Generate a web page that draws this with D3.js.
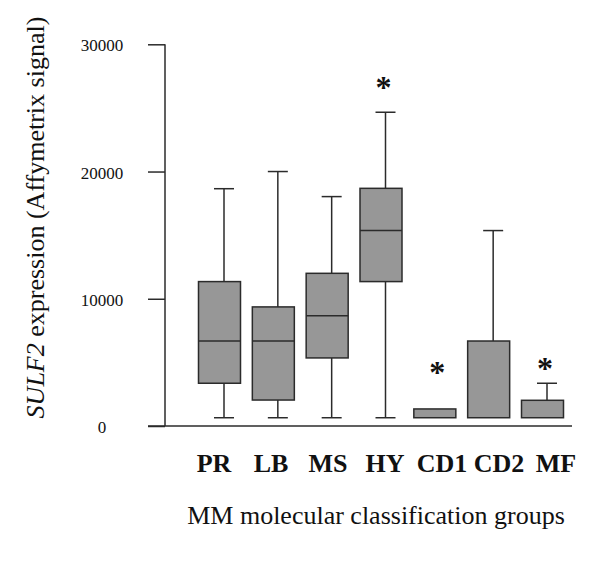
<!DOCTYPE html>
<html>
<head>
<meta charset="utf-8">
<script src="https://cdn.jsdelivr.net/npm/d3@7"></script>
<style>
  html, body { margin: 0; padding: 0; background: #fff; }
  svg { display: block; font-family: "Liberation Serif", "Times New Roman", serif; }
</style>
</head>
<body>
<svg id="chart" width="600" height="567"></svg>
<script>
// ---- data ----
const categories   = ["PR", "LB", "MS", "HY", "CD1", "CD2", "MF"];
const whiskerLow   = [650, 650, 650, 650, 650, 650, 650];
const quartile1    = [3360, 2040, 5350, 11350, 650, 650, 650];
const medians      = [6680, 6680, 8670, 15360, 650, 650, 650];
const quartile3    = [11350, 9360, 12000, 18680, 1340, 6680, 2020];
const whiskerHigh  = [18650, 20000, 18030, 24660, 1340, 15360, 3360];
const starGroups   = ["HY", "CD1", "MF"];
const starValues   = [27000, 4650, 4950];
const yTickValues  = [0, 10000, 20000, 30000];
const yTickLabels  = ["0", "10000", "20000", "30000"];
const yTitleItalic = "SULF2";
const yTitleRest   = " expression (Affymetrix signal)";
const xTitle       = "MM molecular classification groups";

// ---- layout ----
const svg = d3.select("#chart");
const y = d3.scaleLinear().domain([0, 30000]).range([426, 44.3]);
const x = d3.scalePoint().domain(categories).range([224, 547]);
const xLabel = d3.scalePoint().domain(categories).range([214, 556]);
const axisX = 165;
const ink = "#2b2b2b";
const serif = "'Liberation Serif', 'Times New Roman', serif";

const boxes = categories.map((c, i) => ({
  c, lo: whiskerLow[i], q1: quartile1[i], med: medians[i], q3: quartile3[i], hi: whiskerHigh[i]
}));

// y axis (ticks only, labels drawn separately)
const yAxis = d3.axisLeft(y).tickValues(yTickValues).tickSize(17).tickFormat("");
const gy = svg.append("g").attr("transform", `translate(${axisX},0)`).call(yAxis);
gy.select(".domain").attr("stroke", ink).attr("stroke-width", 1.5).attr("d", `M0,${y(30000)}V${y(0)}`);
gy.selectAll(".tick line").attr("stroke", ink).attr("stroke-width", 1.5);
gy.selectAll(".tick text").remove();

svg.append("g").selectAll("text")
  .data(yTickValues.map((v, i) => ({ v, t: yTickLabels[i] })))
  .join("text")
  .attr("x", 102).attr("y", d => y(d.v) + 7)
  .attr("text-anchor", "middle")
  .style("font-family", serif)
  .style("font-size", "17px").attr("fill", "#111")
  .text(d => d.t);

// x axis baseline
svg.append("line")
  .attr("x1", axisX - 17).attr("x2", 572)
  .attr("y1", y(0)).attr("y2", y(0))
  .attr("stroke", ink).attr("stroke-width", 1.5);

// x category labels
svg.append("g").selectAll("text").data(categories).join("text")
  .attr("x", d => xLabel(d)).attr("y", 472)
  .attr("text-anchor", "middle")
  .style("font-family", serif).style("font-weight", "bold")
  .style("font-size", "26px").attr("fill", "#111")
  .text(d => d);

// boxes
const boxW = 42, boxOff = -4.5, capW = 20;
const g = svg.append("g").selectAll("g").data(boxes).join("g");
g.append("line")
  .attr("x1", d => x(d.c)).attr("x2", d => x(d.c))
  .attr("y1", d => y(d.hi)).attr("y2", d => y(d.q3))
  .attr("stroke", ink).attr("stroke-width", 1.5);
g.append("line")
  .attr("x1", d => x(d.c)).attr("x2", d => x(d.c))
  .attr("y1", d => y(d.q1)).attr("y2", d => y(d.lo))
  .attr("stroke", ink).attr("stroke-width", 1.5);
g.filter(d => d.hi > d.q3).append("line")
  .attr("x1", d => x(d.c) - capW / 2).attr("x2", d => x(d.c) + capW / 2)
  .attr("y1", d => y(d.hi)).attr("y2", d => y(d.hi))
  .attr("stroke", ink).attr("stroke-width", 1.5);
g.filter(d => d.lo < d.q1).append("line")
  .attr("x1", d => x(d.c) - capW / 2).attr("x2", d => x(d.c) + capW / 2)
  .attr("y1", d => y(d.lo)).attr("y2", d => y(d.lo))
  .attr("stroke", ink).attr("stroke-width", 1.5);
g.append("rect")
  .attr("x", d => x(d.c) + boxOff - boxW / 2).attr("width", boxW)
  .attr("y", d => y(d.q3)).attr("height", d => y(d.q1) - y(d.q3))
  .attr("fill", "#979797").attr("stroke", ink).attr("stroke-width", 1.5);
g.filter(d => d.med > d.q1).append("line")
  .attr("x1", d => x(d.c) + boxOff - boxW / 2).attr("x2", d => x(d.c) + boxOff + boxW / 2)
  .attr("y1", d => y(d.med)).attr("y2", d => y(d.med))
  .attr("stroke", ink).attr("stroke-width", 1.5);

// significance stars
svg.append("g").selectAll("text").data(starGroups.map((s, i) => ({ s, v: starValues[i] })))
  .join("text")
  .attr("x", d => x(d.s) - 2).attr("y", d => y(d.v) + 16)
  .attr("text-anchor", "middle")
  .style("font-family", serif).style("font-weight", "bold")
  .style("font-size", "32px").attr("fill", "#111")
  .text("*");

// y title
const yt = svg.append("text")
  .attr("transform", "translate(44,217.5) rotate(-90)")
  .attr("text-anchor", "middle")
  .style("font-family", serif)
  .style("font-size", "26px").attr("fill", "#111");
yt.append("tspan").style("font-style", "italic").text(yTitleItalic);
yt.append("tspan").text(yTitleRest);

// x title
svg.append("text")
  .attr("x", 376).attr("y", 524)
  .attr("text-anchor", "middle")
  .style("font-family", serif)
  .style("font-size", "26px").attr("fill", "#111")
  .text(xTitle);
</script>
</body>
</html>
